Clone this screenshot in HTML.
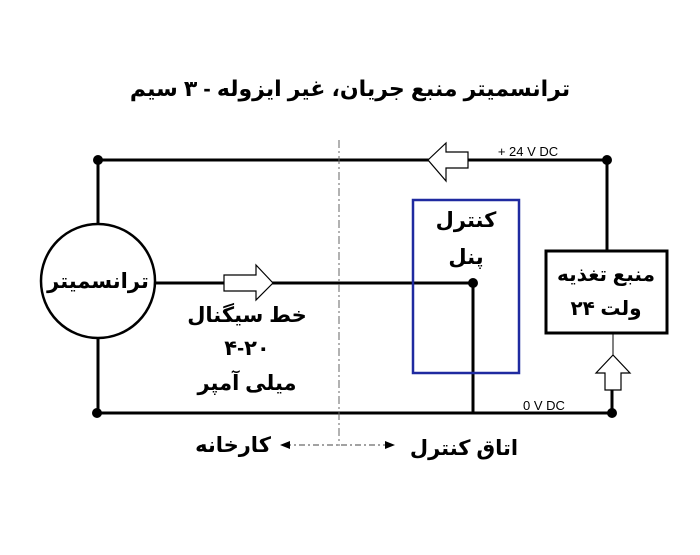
<!DOCTYPE html>
<html><head><meta charset="utf-8"><style>
body{margin:0;background:#fff;}
text{font-family:"Liberation Sans","DejaVu Sans",sans-serif;}
.fa{font-family:"Liberation Sans","DejaVu Sans","Noto Sans CJK SC",sans-serif;font-weight:bold;}
</style></head><body>
<svg width="700" height="550" xmlns="http://www.w3.org/2000/svg">
<rect width="700" height="550" fill="#fff"/>
<text x="350" y="96" text-anchor="middle" class="fa" font-size="22" direction="rtl">ترانسمیتر منبع جریان، غیر ایزوله - ۳ سیم</text>
<g stroke="#000" stroke-width="3" fill="none">
<line x1="98" y1="160" x2="607" y2="160"/>
<line x1="97" y1="413" x2="612" y2="413"/>
<line x1="98" y1="160" x2="98" y2="223"/>
<line x1="98" y1="338" x2="98" y2="413"/>
<line x1="155" y1="283" x2="473" y2="283"/>
<line x1="473" y1="283" x2="473" y2="413"/>
<line x1="607" y1="160" x2="607" y2="250"/>
<line x1="612" y1="390" x2="612" y2="413"/>
<rect x="546" y="251" width="121" height="82"/>
</g>
<line x1="613" y1="333" x2="613" y2="356" stroke="#000" stroke-width="1"/>
<circle cx="98" cy="281" r="57" fill="#fff" stroke="#000" stroke-width="2.5"/>
<rect x="413" y="200" width="106" height="173" fill="none" stroke="#1f2aa0" stroke-width="2.5"/>
<line x1="339" y1="140" x2="339" y2="446" stroke="#666" stroke-width="1" stroke-dasharray="8,3,2,3"/>
<line x1="285" y1="445" x2="390" y2="445" stroke="#444" stroke-width="1" stroke-dasharray="6,3,2,3"/>
<polygon points="280,445 290,441 290,449" fill="#000"/>
<polygon points="395,445 385,441 385,449" fill="#000"/>
<polygon points="428,160 446,143 446,152 468,152 468,168 446,168 446,181" fill="#fff" stroke="#000" stroke-width="1.2"/>
<polygon points="273,283 256,265 256,275 224,275 224,291 256,291 256,300" fill="#fff" stroke="#000" stroke-width="1.2"/>
<polygon points="613,355 596,373 605,373 605,390 621,390 621,373 630,373" fill="#fff" stroke="#000" stroke-width="1.2"/>
<g fill="#000">
<circle cx="98" cy="160" r="5"/><circle cx="607" cy="160" r="5"/>
<circle cx="97" cy="413" r="5"/><circle cx="612" cy="413" r="5"/>
<circle cx="473" cy="283" r="5"/>
</g>
<text x="528" y="156" text-anchor="middle" font-size="13">+ 24 V DC</text>
<text x="544" y="410" text-anchor="middle" font-size="13">0 V DC</text>
<g class="fa" font-size="21" text-anchor="middle" direction="rtl">
<text x="98" y="288" class="fa">ترانسمیتر</text>
<text x="247" y="322" class="fa">خط سیگنال</text>
<text x="247" y="355" class="fa">۴-۲۰</text>
<text x="247" y="390" class="fa">میلی آمپر</text>
<text x="466" y="227" class="fa">کنترل</text>
<text x="466" y="264" class="fa">پنل</text>
<text x="606" y="281" class="fa" font-size="20">منبع تغذیه</text>
<text x="606" y="315" class="fa" font-size="20">ولت ۲۴</text>
<text x="233" y="452" class="fa">کارخانه</text>
<text x="464" y="455" class="fa">اتاق کنترل</text>
</g>
</svg>
</body></html>
